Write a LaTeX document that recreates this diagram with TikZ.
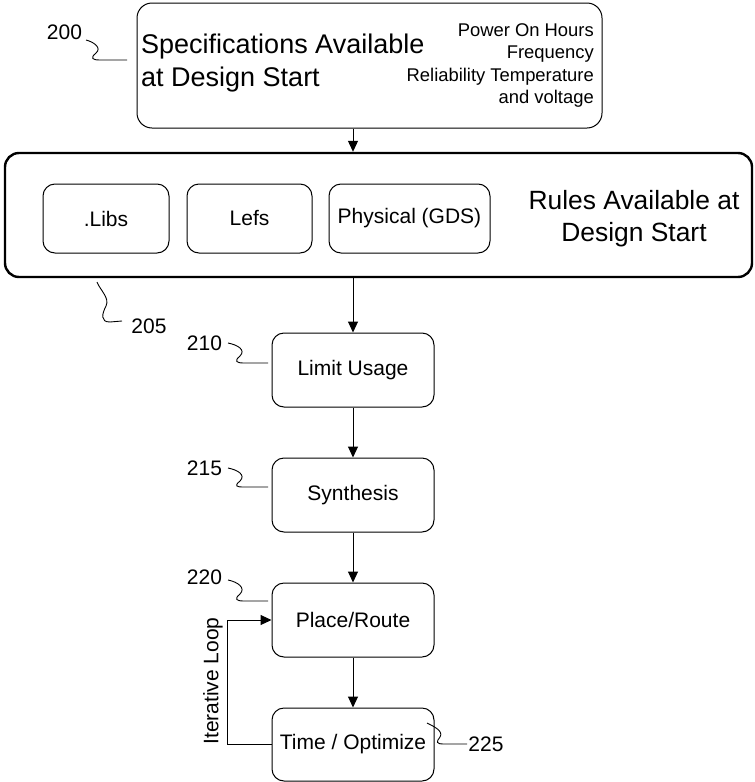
\documentclass[tikz,border=0pt]{standalone}
\usepackage{fontspec}
\setmainfont{Liberation Sans}
\usetikzlibrary{arrows.meta,positioning}
\tikzset{
  paso/.style={draw,rounded corners=12pt,line width=1pt,minimum width=162pt,minimum height=74pt,font=\fontsize{21}{25}\selectfont},
  regla/.style={draw,rounded corners=12pt,line width=1pt,minimum height=69pt,font=\fontsize{21}{25}\selectfont},
  flecha/.style={-{Triangle[width=10pt,length=11pt]},line width=1pt},
  refnum/.style={font=\fontsize{21}{25}\selectfont,inner sep=0pt},
  guia/.style={line width=0.9pt}
}
\begin{document}
\begin{tikzpicture}[x=1pt,y=-1pt,node distance=50pt]
\useasboundingbox (0,0) rectangle (755,782);
% especificaciones
\node[draw,rounded corners=15pt,line width=1pt,minimum width=465pt,minimum height=125pt] (spec) at (369.5,65.5) {};
\node[anchor=west,align=left,inner sep=0pt,font=\fontsize{27}{33}\selectfont] (spectxt) at (141,63.5) {Specifications Available\\at Design Start};
\node[anchor=east,align=right,inner sep=0pt,font=\fontsize{18.4}{22.3}\selectfont] (specitems) at (594,65.5) {Power On Hours\\Frequency\\Reliability Temperature\\and voltage};
% reglas
\node[draw,rounded corners=14pt,line width=2.4pt,minimum width=747pt,minimum height=124pt] (rules) at (378.5,215) {};
\node[regla,minimum width=126pt] (libs) at (106,218.5) {.Libs};
\node[regla,minimum width=125pt] (lefs) at (249.5,218.5) {Lefs};
\node[regla,minimum width=161pt,inner sep=2pt] (gds) at (409.5,218.5) {Physical (GDS)};
\node[align=center,font=\fontsize{26.4}{32}\selectfont] (rulestxt) at (634,219) {Rules Available at\\Design Start};
% flujo
\node[paso] (limit) at (353,370) {Limit Usage};
\node[paso,below=of limit] (synth) {Synthesis};
\node[paso,below=of synth] (place) {Place/Route};
\node[paso,below=of place,minimum height=73pt] (time) {Time / Optimize};
\draw[flecha] (spec.south -| limit.north) -- (rules.north -| limit.north);
\draw[flecha] (rules.south -| limit.north) -- (limit.north);
\draw[flecha] (limit) -- (synth);
\draw[flecha] (synth) -- (place);
\draw[flecha] (place) -- (time);
\draw[flecha] (time.west) -- ++(-44,0) |- (place.west);
\node[refnum,rotate=90] (looptxt) at (213,681) {Iterative Loop};
% numeros de referencia
\node[refnum] (n200) at (64.5,32) {200};
\node[refnum] (n205) at (149,326) {205};
\node[refnum] (n210) at (204.5,343) {210};
\node[refnum] (n215) at (204.5,468) {215};
\node[refnum] (n220) at (204.5,577) {220};
\node[refnum] (n225) at (486,744) {225};
\draw[guia] (86,40) .. controls (94,42) and (102,48) .. (96,53) .. controls (90,58) and (92,60) .. (100,60) -- (127,60);
\draw[guia] (97,282) .. controls (100,290) and (110,298) .. (106,306) .. controls (102,314) and (100,322) .. (110,322) -- (122,321);
\draw[guia] (228,343) .. controls (238,345) and (246,350) .. (240,356) .. controls (234,361) and (236,363) .. (244,363) -- (268,363);
\draw[guia] (228,468) .. controls (238,470) and (246,475) .. (240,481) .. controls (234,486) and (236,487) .. (244,487) -- (268,487);
\draw[guia] (228,580) .. controls (238,582) and (246,588) .. (240,594) .. controls (234,599) and (236,601) .. (244,601) -- (268,601);
\draw[guia] (427,723) .. controls (433,726) and (444,731) .. (440,737) .. controls (436,742) and (436,744) .. (444,744) -- (467,744);
\end{tikzpicture}
\end{document}
